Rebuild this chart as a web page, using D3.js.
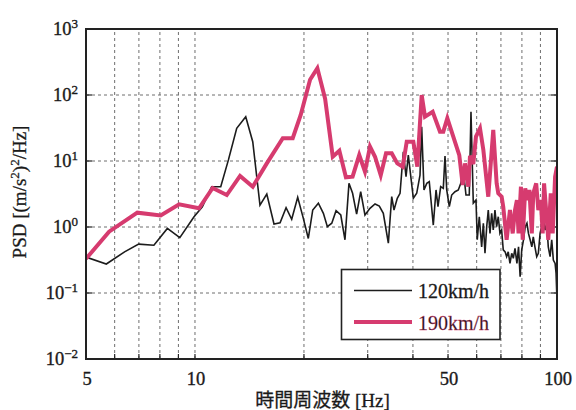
<!DOCTYPE html>
<html>
<head>
<meta charset="utf-8">
<script src="https://cdn.jsdelivr.net/npm/d3@7"></script>
<style>
  html, body { margin: 0; padding: 0; background: #fff; }
  svg { display: block; }
  text { font-family: "Liberation Serif", "Noto Sans CJK JP", serif; fill: #1a1a1a; }
</style>
</head>
<body>
<svg id="chart" width="576" height="410"></svg>
<script>
// PSD spectra of vertical acceleration at two running speeds
const freq120 = [5.00, 5.69, 6.39, 6.99, 7.70, 8.39, 9.08, 9.94, 10.48, 11.12, 11.78, 12.37, 13.04, 13.81, 14.44,
  15.12, 15.79, 16.53, 17.18, 17.85, 18.50, 19.22, 19.92, 20.56, 21.15, 21.92, 22.63, 23.21, 23.87, 24.53,
  25.28, 25.96, 26.63, 27.25, 27.96, 28.69, 29.48, 30.44, 31.43, 32.30, 33.13, 34.21, 34.95, 35.46, 36.21,
  36.85, 37.63, 38.28, 38.84, 40.10, 40.97, 41.84, 42.29, 42.91, 43.68, 44.38, 45.53, 46.33, 46.91, 47.72,
  48.52, 49.05, 49.59, 50.41, 51.18, 52.27, 53.38, 54.23, 55.10, 56.05, 57.24, 57.86, 58.72, 59.73, 60.22,
  61.00, 61.93, 62.60, 63.25, 63.95, 64.59, 65.30, 66.00, 66.67, 67.39, 68.12, 68.83, 69.57, 70.32, 71.04,
  71.90, 72.59, 73.33, 74.15, 74.98, 75.74, 76.56, 77.50, 78.30, 79.10, 79.90, 80.80, 81.70, 82.60, 83.40,
  84.30, 85.20, 86.00, 86.90, 87.90, 88.80, 89.80, 90.70, 91.70, 92.70, 93.70, 94.60, 95.70, 96.70, 97.70,
  98.80, 99.40, 100.0];
const psd120 = [0.35, 0.275, 0.42, 0.55, 0.53, 0.95, 0.69, 1.43, 2.03, 4.08, 4.08, 10.4, 31.3, 46.9, 19.6,
  2.15, 3.16, 1.11, 1.16, 1.96, 1.31, 2.82, 1.35, 0.67, 1.81, 2.29, 1.61, 1.01, 1.14, 1.77,
  1.52, 0.64, 4.59, 3.24, 1.57, 3.43, 1.52, 1.92, 2.23, 2.08, 1.61, 0.57, 2.88, 1.81, 2.72,
  3.24, 13.8, 5.78, 12.3, 2.72, 3.24, 6.1, 33.0, 3.64, 4.59, 4.86, 1.07, 3.64, 2.03, 4.08,
  3.85, 11.9, 3.64, 2.03, 3.05, 3.43, 3.64, 4.59, 7.3, 3.05, 3.05, 55.8, 2.3, 2.56, 0.64,
  1.43, 0.50, 1.14, 0.40, 1.01, 1.81, 0.80, 1.61, 0.90, 1.81, 1.01, 1.43, 0.80, 0.90, 0.45,
  0.42, 0.355, 0.42, 0.28, 0.40, 0.335, 0.475, 0.28, 0.50, 0.177, 0.45, 0.64, 1.01, 1.14, 0.80,
  0.64, 0.50, 0.71, 0.50, 0.355, 0.40, 0.80, 1.01, 1.28, 0.90, 1.14, 0.50, 0.355, 0.64, 0.316,
  0.28, 0.20, 0.078];

const freq190 = [5.00, 5.79, 6.93, 8.04, 9.04, 10.26, 11.19, 12.24, 13.32, 14.44, 15.79, 17.48, 18.62, 19.59,
  20.79, 21.78, 22.88, 24.02, 25.05, 26.12, 27.25, 28.43, 29.48, 30.44, 31.43, 32.59, 33.71, 34.95, 36.21,
  37.49, 38.45, 40.10, 41.13, 42.29, 43.19, 45.35, 47.51, 48.52, 49.78, 51.70, 53.71, 54.89, 55.70, 56.88,
  57.50, 58.72, 59.73, 61.28, 62.60, 64.59, 66.67, 68.12, 68.83, 70.32, 71.04, 72.59, 74.15, 75.45, 76.56,
  77.50, 78.30, 79.50, 80.40, 81.70, 82.90, 83.90, 85.20, 86.00, 87.60, 88.80, 90.20, 91.30, 92.10, 93.30,
  94.60, 96.10, 97.30, 98.80, 100.0];
const psd190 = [0.33, 0.85, 1.65, 1.50, 2.21, 1.92, 3.90, 3.05, 5.93, 4.08, 9.2, 22.1, 22.1, 49.8,
  170, 254, 88, 11.6, 14.3, 5.66, 5.78, 12.3, 6.9, 16.5, 11.6, 6.1, 13.1, 13.1, 9.2,
  8.2, 19.6, 19.6, 8.2, 100, 46.9, 55.8, 27.8, 27.8, 44.4, 23.4, 12.3, 4.33, 9.2, 4.08,
  12.0, 9.0, 23.4, 31.3, 14.7, 2.88, 29.5, 4.59, 3.24, 2.88, 2.03, 0.64, 1.81, 0.80, 1.81,
  2.56, 0.80, 4.08, 0.64, 3.85, 2.56, 3.64, 0.80, 3.24, 4.59, 1.81, 2.56, 0.80, 4.59, 1.81,
  0.64, 3.24, 0.80, 5.78, 8.2];

const xGrid = [6, 7, 8, 9, 10, 20, 30, 40, 50, 60, 70, 80, 90];
const xTickLabels = [5, 10, 50, 100];
const yDecades = [-2, -1, 0, 1, 2, 3];

const seriesNames = ["120km/h", "190km/h"];
const seriesColors = ["#1c1c1c", "#d63b6f"];
const seriesWidths = [1.6, 4];

const margin = { left: 86, right: 19, top: 29, bottom: 51 };
const W = 576, H = 410;
const svg = d3.select("#chart");

const x = d3.scaleLog().domain([5, 100]).range([margin.left, W - margin.right]);
const y = d3.scaleLog().domain([1e-2, 1e3]).range([H - margin.bottom, margin.top]);
const x0 = x.range()[0], x1 = x.range()[1], y0 = y.range()[0], y1 = y.range()[1];

svg.append("defs").append("clipPath").attr("id", "plot-clip")
  .append("rect").attr("x", x0).attr("y", y1).attr("width", x1 - x0).attr("height", y0 - y1);

// dashed grid
const grid = svg.append("g").attr("stroke", "#6e6e6e").attr("stroke-width", 1).attr("stroke-dasharray", "3,3");
grid.selectAll(".gx").data(xGrid).join("line")
  .attr("x1", d => x(d)).attr("x2", d => x(d)).attr("y1", y0).attr("y2", y1);
grid.selectAll(".gy").data(yDecades.slice(1, -1)).join("line")
  .attr("x1", x0).attr("x2", x1).attr("y1", d => y(Math.pow(10, d))).attr("y2", d => y(Math.pow(10, d)));

// inward ticks
const ticks = svg.append("g").attr("stroke", "#222").attr("stroke-width", 1.2);
ticks.selectAll(".tl").data(yDecades).join("line")
  .attr("x1", x0).attr("x2", x0 + 6).attr("y1", d => y(Math.pow(10, d))).attr("y2", d => y(Math.pow(10, d)));
ticks.selectAll(".tr").data(yDecades).join("line")
  .attr("x1", x1 - 6).attr("x2", x1).attr("y1", d => y(Math.pow(10, d))).attr("y2", d => y(Math.pow(10, d)));
ticks.selectAll(".tb").data(xGrid).join("line")
  .attr("x1", d => x(d)).attr("x2", d => x(d)).attr("y1", y0).attr("y2", y0 - 5);

// spectra
const line = d3.line().x(d => x(d[0])).y(d => y(d[1]));
const data120 = freq120.map((f, i) => [f, psd120[i]]);
const data190 = freq190.map((f, i) => [f, psd190[i]]);
const plot = svg.append("g").attr("clip-path", "url(#plot-clip)");
plot.append("path").datum(data120).attr("d", line).attr("fill", "none")
  .attr("stroke", seriesColors[0]).attr("stroke-width", seriesWidths[0]).attr("stroke-linejoin", "miter");
plot.append("path").datum(data190).attr("d", line).attr("fill", "none")
  .attr("stroke", seriesColors[1]).attr("stroke-width", seriesWidths[1]).attr("stroke-linejoin", "miter");

// frame
svg.append("rect").attr("x", x0).attr("y", y1).attr("width", x1 - x0).attr("height", y0 - y1)
  .attr("fill", "none").attr("stroke", "#222").attr("stroke-width", 2);

// y tick labels 10^n
const yLab = svg.append("g").attr("font-size", 18.5).attr("text-anchor", "end")
  .attr("stroke", "#1a1a1a").attr("stroke-width", 0.35);
yDecades.forEach(n => {
  const t = yLab.append("text").attr("x", 78).attr("y", y(Math.pow(10, n)) + 6);
  t.append("tspan").text("10");
  t.append("tspan").attr("dy", -7.5).attr("font-size", 13).text(n < 0 ? "\u2212" + Math.abs(n) : String(n));
});

// x tick labels
svg.append("g").attr("font-size", 18.5).attr("text-anchor", "middle")
  .attr("stroke", "#1a1a1a").attr("stroke-width", 0.35)
  .selectAll("text").data(xTickLabels).join("text")
  .attr("x", d => x(d) + 1).attr("y", 385).text(d => d);

// axis titles
svg.append("text").attr("x", (x0 + x1) / 2 + 1).attr("y", 407).attr("text-anchor", "middle")
  .attr("font-size", 19).attr("stroke", "#1a1a1a").attr("stroke-width", 0.3)
  .text("時間周波数 [Hz]");

const yt = svg.append("text").attr("transform", `translate(26,${(y0 + y1) / 2 - 2}) rotate(-90)`)
  .attr("text-anchor", "middle").attr("font-size", 19).attr("stroke", "#1a1a1a").attr("stroke-width", 0.3);
yt.append("tspan").text("PSD [(m/s");
yt.append("tspan").attr("dy", -7).attr("font-size", 13).text("2");
yt.append("tspan").attr("dy", 7).text(")");
yt.append("tspan").attr("dy", -7).attr("font-size", 13).text("2");
yt.append("tspan").attr("dy", 7).text("/Hz]");

// legend
const lg = svg.append("g");
lg.append("rect").attr("x", 341.5).attr("y", 269.5).attr("width", 158.5).attr("height", 70)
  .attr("fill", "#fff").attr("stroke", "#222").attr("stroke-width", 1.6);
seriesNames.forEach((name, i) => {
  const cy = 290.5 + i * 31.5;
  lg.append("line").attr("x1", 354).attr("x2", 412).attr("y1", cy).attr("y2", cy)
    .attr("stroke", seriesColors[i]).attr("stroke-width", seriesWidths[i]);
  lg.append("text").attr("x", 418).attr("y", cy + 7.5).attr("font-size", 20)
    .attr("fill", seriesColors[i]).attr("stroke", seriesColors[i]).attr("stroke-width", 0.3).text(name);
});
</script>
</body>
</html>
